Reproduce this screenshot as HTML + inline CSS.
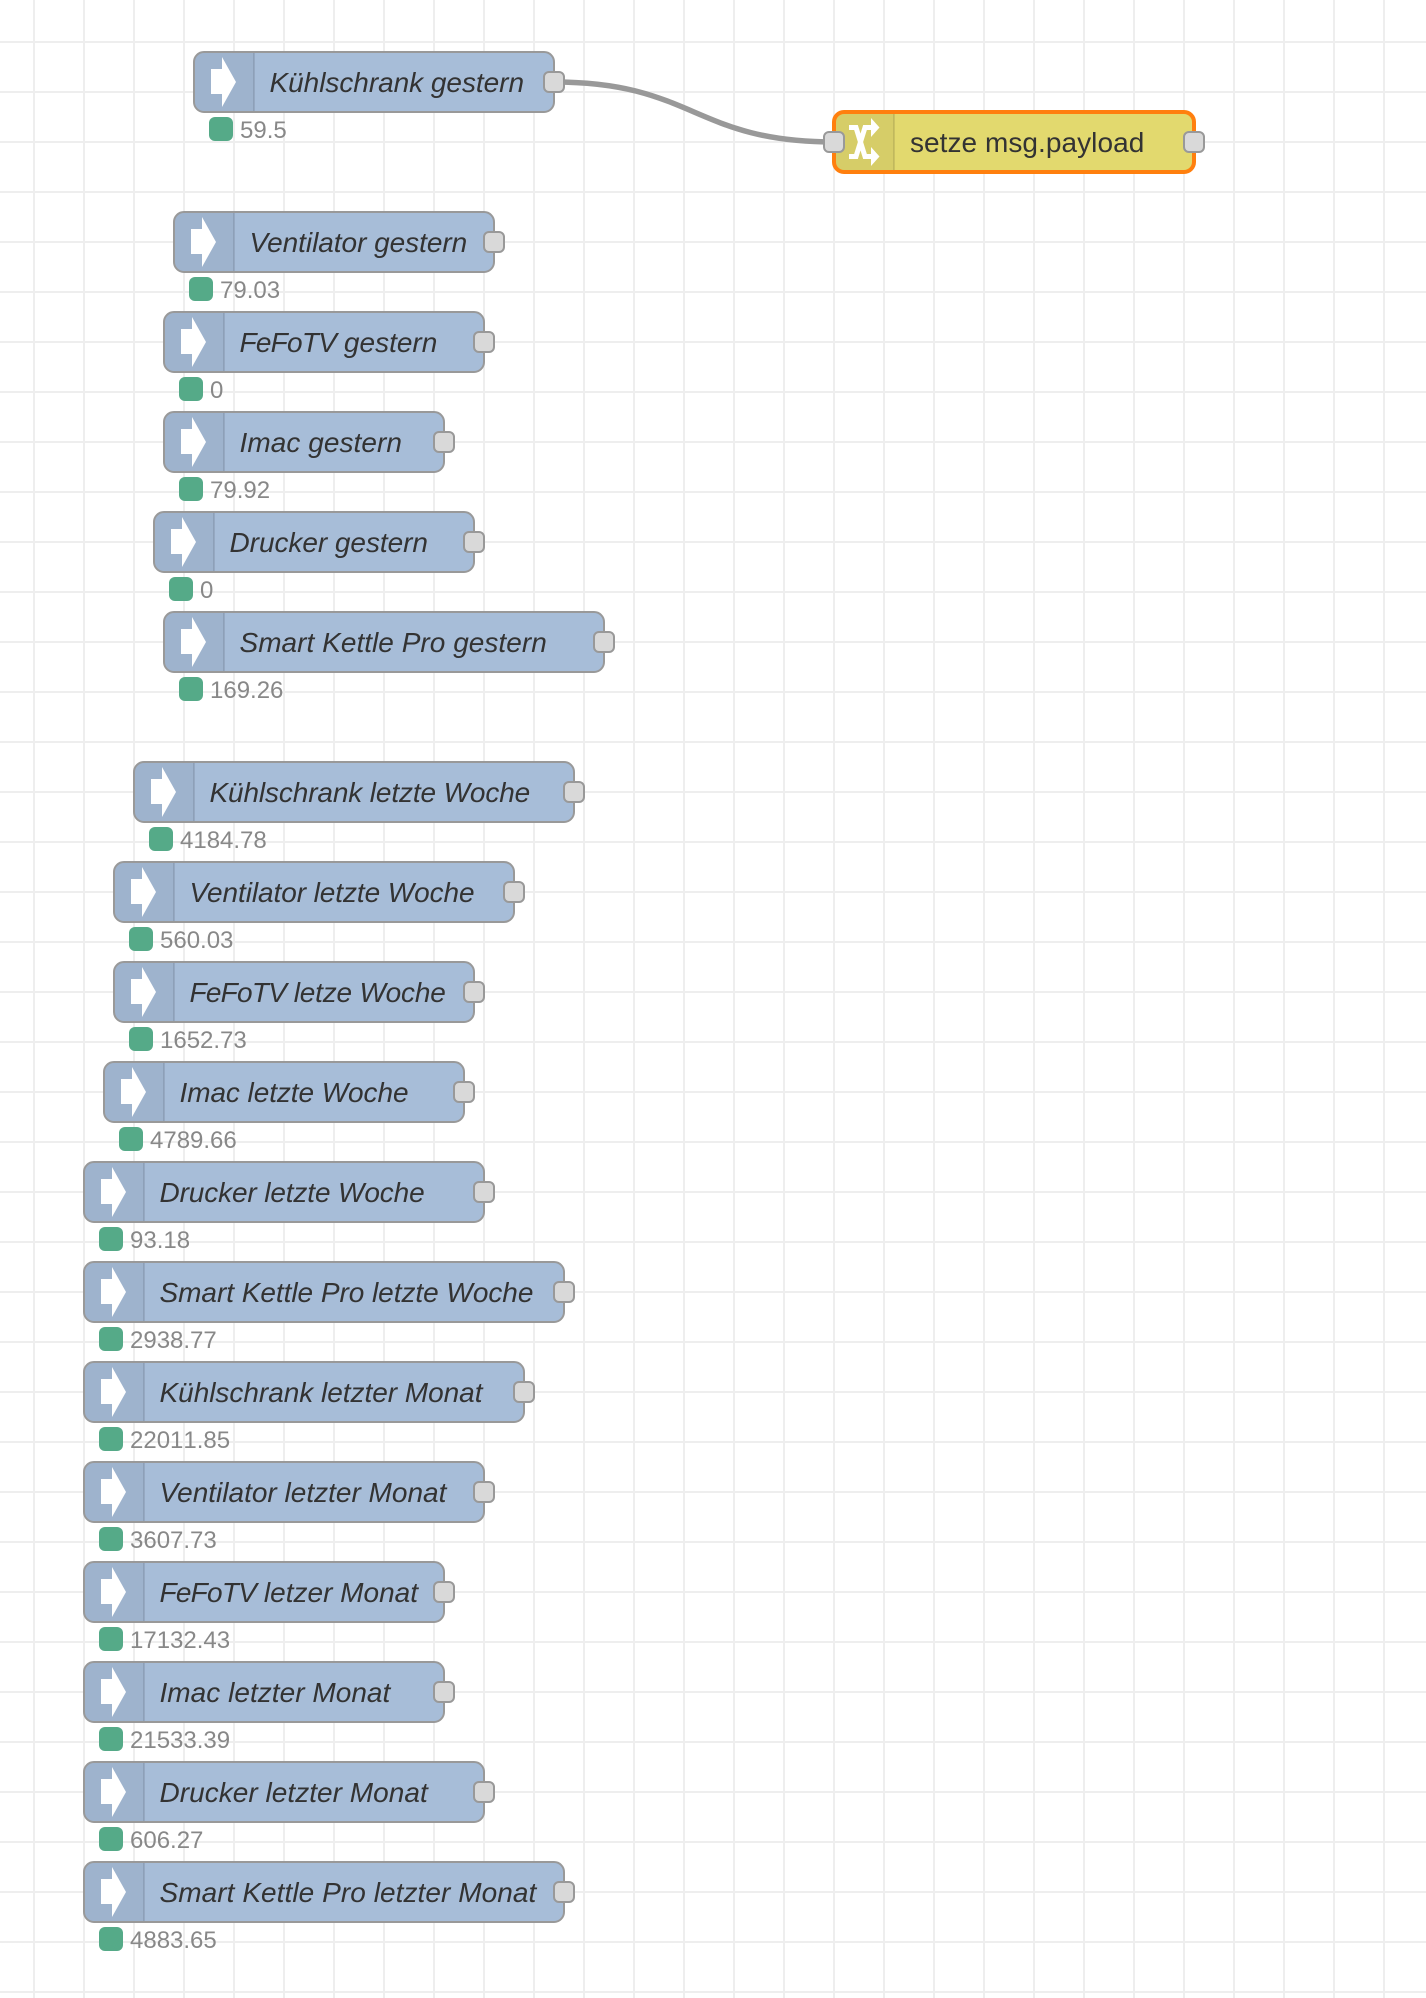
<!DOCTYPE html>
<html><head><meta charset="utf-8"><style>
html,body{margin:0;padding:0;background:#fff}
svg{display:block}
.n{fill:#a7bdd8;stroke:#999;stroke-width:2}
.o{fill:#d9d9d9;stroke:#999;stroke-width:2}
.d{fill:#55aa88}
.l{font:italic 28px "Liberation Sans",sans-serif;fill:#333}
.s{font:24px "Liberation Sans",sans-serif;fill:#888;font-kerning:none}
.f{letter-spacing:-.75px}
</style></head><body>
<svg width="1426" height="1998" viewBox="0 0 1426 1998" xmlns="http://www.w3.org/2000/svg">
<defs>
<pattern id="g" x="34" y="42" width="50" height="50" patternUnits="userSpaceOnUse">
<path d="M0 -1V51M-1 0H51" stroke="#eee" stroke-width="2" fill="none"/>
<path d="M50 0V50M0 50H50" stroke="#eee" stroke-width="2" fill="none"/>
</pattern>
<g id="p">
<path d="M10 1H60V59H10A9 9 0 0 1 1 50V10A9 9 0 0 1 10 1Z" fill="#000" fill-opacity=".05"/>
<path d="M60 1V59" stroke="#000" stroke-opacity=".1" stroke-width="2"/>
<path d="M17 17H28V5L42 30L28 55V42H17Z" fill="#fff"/>
</g>
</defs>
<rect width="1426" height="1998" fill="#fff"/>
<rect width="1426" height="1998" fill="url(#g)"/>
<path d="M554 82C694 82 694 142 834 142" fill="none" stroke="#999" stroke-width="5.5"/>

<g transform="translate(194,52)"><rect class="n" width="360" height="60" rx="10"/><use href="#p"/><rect class="o" x="350" y="20" width="20" height="20" rx="5"/><text class="l" x="75.5" y="40" style="letter-spacing:-.04px">Kühlschrank gestern</text><rect class="d" x="15" y="65" width="24" height="24" rx="6"/><text class="s" x="46" y="86">59.5</text></g>
<g transform="translate(174,212)"><rect class="n" width="320" height="60" rx="10"/><use href="#p"/><rect class="o" x="310" y="20" width="20" height="20" rx="5"/><text class="l" x="75.5" y="40" style="letter-spacing:-.04px">Ventilator gestern</text><rect class="d" x="15" y="65" width="24" height="24" rx="6"/><text class="s" x="46" y="86">79.03</text></g>
<g transform="translate(164,312)"><rect class="n" width="320" height="60" rx="10"/><use href="#p"/><rect class="o" x="310" y="20" width="20" height="20" rx="5"/><text class="l" x="75.5" y="40"><tspan class="f">FeFoTV</tspan> gestern</text><rect class="d" x="15" y="65" width="24" height="24" rx="6"/><text class="s" x="46" y="86">0</text></g>
<g transform="translate(164,412)"><rect class="n" width="280" height="60" rx="10"/><use href="#p"/><rect class="o" x="270" y="20" width="20" height="20" rx="5"/><text class="l" x="75.5" y="40" style="letter-spacing:.05px">Imac gestern</text><rect class="d" x="15" y="65" width="24" height="24" rx="6"/><text class="s" x="46" y="86">79.92</text></g>
<g transform="translate(154,512)"><rect class="n" width="320" height="60" rx="10"/><use href="#p"/><rect class="o" x="310" y="20" width="20" height="20" rx="5"/><text class="l" x="75.5" y="40" style="letter-spacing:-.05px">Drucker gestern</text><rect class="d" x="15" y="65" width="24" height="24" rx="6"/><text class="s" x="46" y="86">0</text></g>
<g transform="translate(164,612)"><rect class="n" width="440" height="60" rx="10"/><use href="#p"/><rect class="o" x="430" y="20" width="20" height="20" rx="5"/><text class="l" x="75.5" y="40" style="letter-spacing:.03px">Smart Kettle Pro gestern</text><rect class="d" x="15" y="65" width="24" height="24" rx="6"/><text class="s" x="46" y="86">169.26</text></g>
<g transform="translate(134,762)"><rect class="n" width="440" height="60" rx="10"/><use href="#p"/><rect class="o" x="430" y="20" width="20" height="20" rx="5"/><text class="l" x="75.5" y="40" style="letter-spacing:-.13px">Kühlschrank letzte Woche</text><rect class="d" x="15" y="65" width="24" height="24" rx="6"/><text class="s" x="46" y="86">4184.78</text></g>
<g transform="translate(114,862)"><rect class="n" width="400" height="60" rx="10"/><use href="#p"/><rect class="o" x="390" y="20" width="20" height="20" rx="5"/><text class="l" x="75.5" y="40" style="letter-spacing:-.08px">Ventilator letzte Woche</text><rect class="d" x="15" y="65" width="24" height="24" rx="6"/><text class="s" x="46" y="86">560.03</text></g>
<g transform="translate(114,962)"><rect class="n" width="360" height="60" rx="10"/><use href="#p"/><rect class="o" x="350" y="20" width="20" height="20" rx="5"/><text class="l" x="75.5" y="40" style="letter-spacing:-.2px"><tspan class="f">FeFoTV</tspan> letze Woche</text><rect class="d" x="15" y="65" width="24" height="24" rx="6"/><text class="s" x="46" y="86">1652.73</text></g>
<g transform="translate(104,1062)"><rect class="n" width="360" height="60" rx="10"/><use href="#p"/><rect class="o" x="350" y="20" width="20" height="20" rx="5"/><text class="l" x="75.5" y="40" style="letter-spacing:-.08px">Imac letzte Woche</text><rect class="d" x="15" y="65" width="24" height="24" rx="6"/><text class="s" x="46" y="86">4789.66</text></g>
<g transform="translate(84,1162)"><rect class="n" width="400" height="60" rx="10"/><use href="#p"/><rect class="o" x="390" y="20" width="20" height="20" rx="5"/><text class="l" x="75.5" y="40" style="letter-spacing:-.13px">Drucker letzte Woche</text><rect class="d" x="15" y="65" width="24" height="24" rx="6"/><text class="s" x="46" y="86">93.18</text></g>
<g transform="translate(84,1262)"><rect class="n" width="480" height="60" rx="10"/><use href="#p"/><rect class="o" x="470" y="20" width="20" height="20" rx="5"/><text class="l" x="75.5" y="40" style="letter-spacing:-.04px">Smart Kettle Pro letzte Woche</text><rect class="d" x="15" y="65" width="24" height="24" rx="6"/><text class="s" x="46" y="86">2938.77</text></g>
<g transform="translate(84,1362)"><rect class="n" width="440" height="60" rx="10"/><use href="#p"/><rect class="o" x="430" y="20" width="20" height="20" rx="5"/><text class="l" x="75.5" y="40" style="letter-spacing:-.03px">Kühlschrank letzter Monat</text><rect class="d" x="15" y="65" width="24" height="24" rx="6"/><text class="s" x="46" y="86">22011.85</text></g>
<g transform="translate(84,1462)"><rect class="n" width="400" height="60" rx="10"/><use href="#p"/><rect class="o" x="390" y="20" width="20" height="20" rx="5"/><text class="l" x="75.5" y="40">Ventilator letzter Monat</text><rect class="d" x="15" y="65" width="24" height="24" rx="6"/><text class="s" x="46" y="86">3607.73</text></g>
<g transform="translate(84,1562)"><rect class="n" width="360" height="60" rx="10"/><use href="#p"/><rect class="o" x="350" y="20" width="20" height="20" rx="5"/><text class="l" x="75.5" y="40"><tspan class="f">FeFoTV</tspan> letzer Monat</text><rect class="d" x="15" y="65" width="24" height="24" rx="6"/><text class="s" x="46" y="86">17132.43</text></g>
<g transform="translate(84,1662)"><rect class="n" width="360" height="60" rx="10"/><use href="#p"/><rect class="o" x="350" y="20" width="20" height="20" rx="5"/><text class="l" x="75.5" y="40" style="letter-spacing:.03px">Imac letzter Monat</text><rect class="d" x="15" y="65" width="24" height="24" rx="6"/><text class="s" x="46" y="86">21533.39</text></g>
<g transform="translate(84,1762)"><rect class="n" width="400" height="60" rx="10"/><use href="#p"/><rect class="o" x="390" y="20" width="20" height="20" rx="5"/><text class="l" x="75.5" y="40" style="letter-spacing:.03px">Drucker letzter Monat</text><rect class="d" x="15" y="65" width="24" height="24" rx="6"/><text class="s" x="46" y="86">606.27</text></g>
<g transform="translate(84,1862)"><rect class="n" width="480" height="60" rx="10"/><use href="#p"/><rect class="o" x="470" y="20" width="20" height="20" rx="5"/><text class="l" x="75.5" y="40" style="letter-spacing:.06px">Smart Kettle Pro letzter Monat</text><rect class="d" x="15" y="65" width="24" height="24" rx="6"/><text class="s" x="46" y="86">4883.65</text></g>

<g transform="translate(834,112)">
<rect width="360" height="60" rx="10" fill="#e2d96e"/>
<path d="M10 1H60V59H10A9 9 0 0 1 1 50V10A9 9 0 0 1 10 1Z" fill="#000" fill-opacity=".05"/>
<path d="M60 1V59" stroke="#000" stroke-opacity=".1" stroke-width="2"/>
<rect width="360" height="60" rx="10" fill="none" stroke="#ff7f0e" stroke-width="4"/>
<g fill="none" stroke="#fff" stroke-width="5">
<path d="M15 15.5H22L31 44.5H38"/>
<path d="M15 44.5H22L31 15.5H38"/>
</g>
<path d="M37 6L45.5 15.5L37 25ZM37 35L45.5 44.5L37 54Z" fill="#fff"/>
<rect class="o" x="-10" y="20" width="20" height="20" rx="5"/>
<rect class="o" x="350" y="20" width="20" height="20" rx="5"/>
<text x="76" y="40" style="font:28px 'Liberation Sans',sans-serif;fill:#333;letter-spacing:.05px">setze msg.payload</text>
</g>
</svg>
</body></html>
